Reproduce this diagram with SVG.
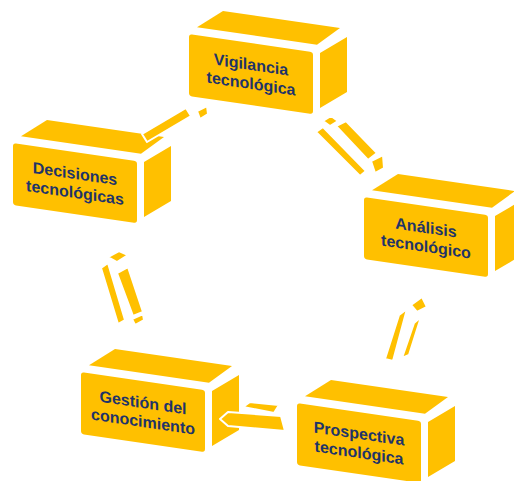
<svg xmlns="http://www.w3.org/2000/svg" width="514" height="481" viewBox="0 0 514 481">
  <style>
    .face { fill: #FFC000; }
    .lbl { font-family: "Liberation Sans", Arial, sans-serif; font-weight: bold; font-size: 16px; fill: #1F3468; text-anchor: middle; }
    .conn polygon { fill: #FFC000; stroke: #FFFFFF; stroke-width: 2; stroke-linejoin: round; }
  </style>
  <defs>
    <g id="box">
      <rect class="face" x="0" y="0" width="124" height="62" rx="3"/>
      <polygon class="face" points="8,-8 34,-28 151,-28 128,-8"/>
      <polygon class="face" points="131,0 158,-20 158,35 131,55"/>
    </g>
  </defs>
  <rect width="514" height="481" fill="#FFFFFF"/>

  <g id="node-vigilancia" transform="translate(189,34) skewY(8.3)">
    <use href="#box"/>
    <text class="lbl" x="62" y="27">Vigilancia</text>
    <text class="lbl" x="62" y="46">tecnológica</text>
  </g>
  <g id="node-decisiones" transform="translate(13,143) skewY(8.3)">
    <use href="#box"/>
    <text class="lbl" x="62" y="27">Decisiones</text>
    <text class="lbl" x="62" y="46">tecnológicas</text>
  </g>
  <g id="node-analisis" transform="translate(364,197) skewY(8.3)">
    <use href="#box"/>
    <text class="lbl" x="62" y="27">Análisis</text>
    <text class="lbl" x="62" y="46">tecnológico</text>
  </g>
  <g id="node-gestion" transform="translate(81,372) skewY(8.3)">
    <use href="#box"/>
    <text class="lbl" x="62" y="27">Gestión del</text>
    <text class="lbl" x="62" y="46">conocimiento</text>
  </g>
  <g id="node-prospectiva" transform="translate(297,403) skewY(8.3)">
    <use href="#box"/>
    <text class="lbl" x="62" y="27">Prospectiva</text>
    <text class="lbl" x="62" y="46">tecnológica</text>
  </g>

  <g id="connectors" class="conn">
    <g id="conn-vig-dec">
      <polygon points="142,134 186,108 191,116 147,142"/>
      <polygon points="197,111 207,106 208,114 200,119"/>
    </g>
    <g id="conn-vig-ana">
      <polygon points="323,121 331,116 338,121 330,126"/>
      <polygon points="316,132 323,127 366,171 360,176"/>
      <polygon points="336,126 346,121 377,153 368,160"/>
      <polygon points="371,161 383,155 384,168 375,173"/>
    </g>
    <g id="conn-dec-ges">
      <polygon points="108,257 119,251 128,255 117,262"/>
      <polygon points="101,268 108,263 125,320 118,324"/>
      <polygon points="117,273 128,267 143,312 133,316"/>
      <polygon points="132,319 143,314 144,320 135,325"/>
    </g>
    <g id="conn-ana-pro">
      <polygon points="411,305 422,297 427,307 417,312"/>
      <polygon points="399,315 407,309 393,361 385,359"/>
      <polygon points="414,323 421,317 409,355 402,358"/>
    </g>
    <g id="conn-pro-ges">
      <polygon points="243,407 250,402 279,405 274,413"/>
      <polygon points="220,419 228,412 281,416 285,431 228,426"/>
    </g>
  </g>
</svg>
